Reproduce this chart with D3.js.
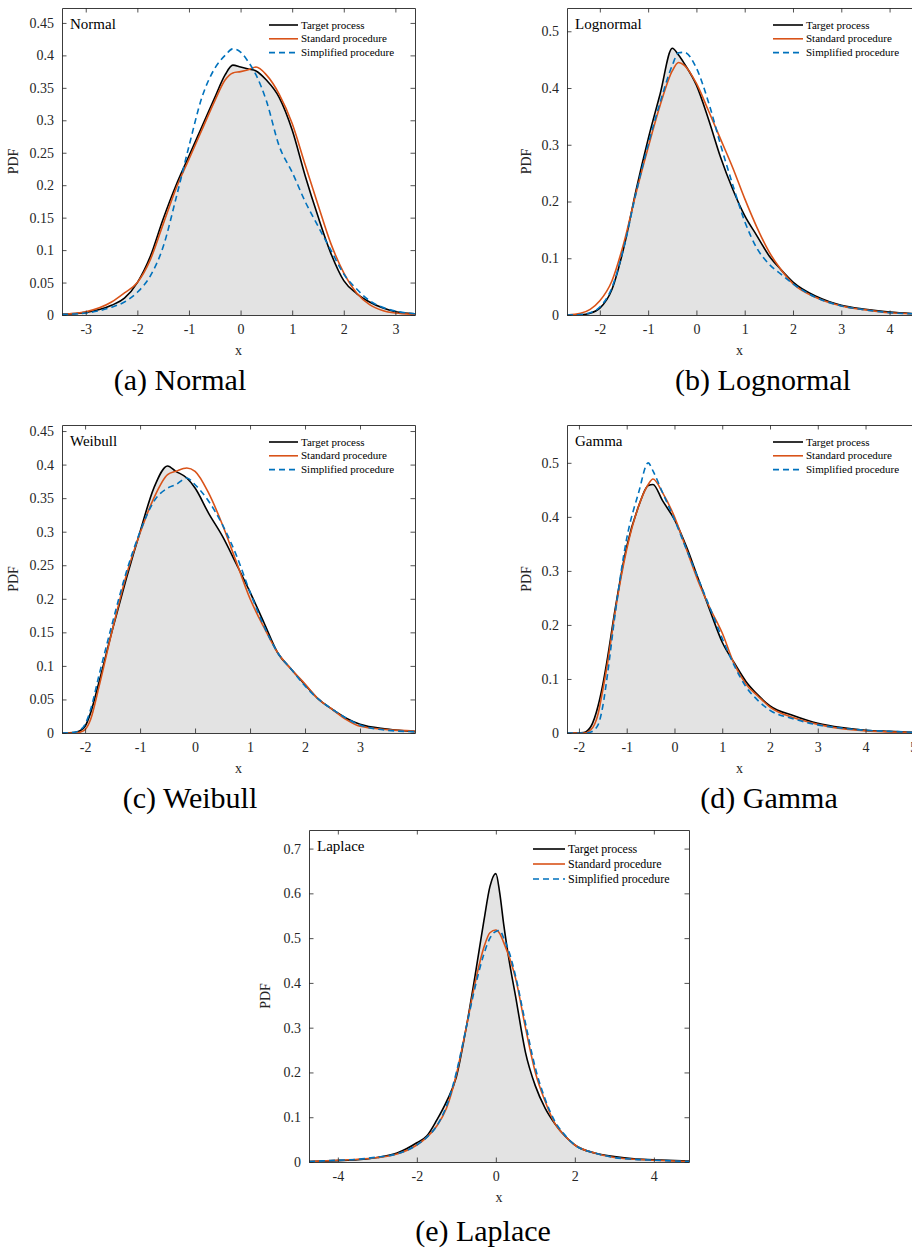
<!DOCTYPE html>
<html>
<head>
<meta charset="utf-8">
<script src="https://cdn.jsdelivr.net/npm/d3@7"></script>
<style>
  body { margin: 0; background: #fff; }
  svg { display: block; font-family: "Liberation Serif", "Times New Roman", serif; }
  svg text { font-family: "Liberation Serif", "Times New Roman", serif; }
</style>
</head>
<body>
<svg id="chart"></svg>
<script>
const width = 912;
const height = 1250;

// ---- (a) Normal ----
const normalX = [-3.46, -3, -2.5, -2.25, -2, -1.75, -1.5, -1.25, -1, -0.75, -0.5, -0.3, -0.15, 0, 0.15, 0.3, 0.5, 0.75, 1, 1.25, 1.5, 1.75, 2, 2.25, 2.5, 2.75, 3, 3.38];
const normalTarget = [0.001, 0.004, 0.015, 0.026, 0.05, 0.09, 0.148, 0.2, 0.245, 0.29, 0.335, 0.37, 0.385, 0.382, 0.379, 0.376, 0.362, 0.335, 0.285, 0.215, 0.152, 0.095, 0.053, 0.033, 0.02, 0.011, 0.005, 0.002];
const normalStandard = [0.001, 0.005, 0.02, 0.034, 0.05, 0.085, 0.14, 0.195, 0.24, 0.285, 0.33, 0.362, 0.373, 0.375, 0.378, 0.382, 0.37, 0.34, 0.295, 0.232, 0.17, 0.11, 0.065, 0.034, 0.016, 0.007, 0.003, 0.001];
const normalSimplified = [0.001, 0.003, 0.012, 0.02, 0.035, 0.06, 0.105, 0.18, 0.26, 0.335, 0.38, 0.4, 0.41, 0.405, 0.39, 0.37, 0.33, 0.26, 0.22, 0.175, 0.137, 0.1, 0.063, 0.04, 0.022, 0.012, 0.006, 0.002];

// ---- (b) Lognormal ----
const lognormalX = [-2.68, -2.4, -2.2, -2, -1.75, -1.5, -1.25, -1, -0.75, -0.5, -0.37, -0.25, 0, 0.25, 0.5, 0.75, 1, 1.25, 1.5, 1.75, 2, 2.5, 3, 3.5, 4, 4.63];
const lognormalTarget = [0, 0.0005, 0.003, 0.012, 0.045, 0.12, 0.22, 0.31, 0.39, 0.47, 0.458, 0.443, 0.405, 0.345, 0.278, 0.222, 0.175, 0.14, 0.105, 0.08, 0.058, 0.032, 0.017, 0.01, 0.005, 0.002];
const lognormalStandard = [0, 0.003, 0.01, 0.025, 0.06, 0.128, 0.215, 0.295, 0.37, 0.43, 0.445, 0.44, 0.408, 0.36, 0.31, 0.26, 0.205, 0.155, 0.112, 0.08, 0.055, 0.03, 0.016, 0.009, 0.004, 0.002];
const lognormalSimplified = [0, 0.001, 0.004, 0.014, 0.048, 0.12, 0.215, 0.3, 0.375, 0.44, 0.462, 0.463, 0.435, 0.375, 0.3, 0.23, 0.165, 0.118, 0.09, 0.072, 0.055, 0.03, 0.016, 0.009, 0.004, 0.002];

// ---- (c) Weibull ----
const weibullX = [-2.42, -2.2, -2.1, -2, -1.9, -1.75, -1.5, -1.25, -1, -0.75, -0.5, -0.35, -0.15, 0, 0.25, 0.5, 0.75, 1, 1.25, 1.5, 1.75, 2, 2.25, 2.5, 2.75, 3, 3.5, 4];
const weibullTarget = [0, 0.0005, 0.003, 0.01, 0.03, 0.075, 0.155, 0.23, 0.3, 0.365, 0.398, 0.39, 0.38, 0.365, 0.327, 0.293, 0.252, 0.21, 0.165, 0.12, 0.095, 0.072, 0.05, 0.035, 0.022, 0.013, 0.006, 0.002];
const weibullStandard = [0, 0, 0.001, 0.005, 0.02, 0.068, 0.155, 0.235, 0.298, 0.35, 0.385, 0.39, 0.395, 0.39, 0.357, 0.31, 0.255, 0.2, 0.158, 0.12, 0.095, 0.073, 0.05, 0.035, 0.02, 0.01, 0.005, 0.003];
const weibullSimplified = [0, 0.001, 0.004, 0.013, 0.035, 0.085, 0.165, 0.24, 0.3, 0.345, 0.365, 0.37, 0.38, 0.37, 0.345, 0.31, 0.265, 0.21, 0.16, 0.12, 0.095, 0.07, 0.05, 0.035, 0.022, 0.012, 0.004, 0.002];

// ---- (d) Gamma ----
const gammaX = [-2.25, -1.9, -1.75, -1.6, -1.5, -1.4, -1.25, -1, -0.75, -0.55, -0.45, -0.25, 0, 0.25, 0.5, 0.75, 1, 1.25, 1.5, 1.75, 2, 2.5, 3, 3.5, 4, 4.5, 5.14];
const gammaTarget = [0, 0.001, 0.012, 0.05, 0.09, 0.14, 0.225, 0.345, 0.42, 0.458, 0.46, 0.43, 0.395, 0.345, 0.285, 0.225, 0.168, 0.13, 0.095, 0.07, 0.05, 0.032, 0.018, 0.01, 0.005, 0.003, 0.001];
const gammaStandard = [0, 0, 0.006, 0.035, 0.08, 0.13, 0.22, 0.34, 0.42, 0.46, 0.47, 0.445, 0.4, 0.34, 0.28, 0.23, 0.185, 0.128, 0.09, 0.068, 0.048, 0.028, 0.016, 0.008, 0.004, 0.002, 0.001];
const gammaSimplified = [0, 0, 0.002, 0.015, 0.05, 0.11, 0.215, 0.36, 0.445, 0.5, 0.485, 0.445, 0.395, 0.34, 0.285, 0.23, 0.175, 0.125, 0.085, 0.06, 0.042, 0.026, 0.015, 0.009, 0.005, 0.003, 0.001];

// ---- (e) Laplace ----
const laplaceX = [-4.73, -4, -3.5, -3, -2.5, -2, -1.75, -1.5, -1.25, -1, -0.75, -0.5, -0.3, -0.15, 0, 0.1, 0.2, 0.35, 0.5, 0.75, 1, 1.25, 1.5, 1.75, 2, 2.5, 3, 3.5, 4, 4.89];
const laplaceTarget = [0.001, 0.003, 0.005, 0.01, 0.02, 0.043, 0.058, 0.093, 0.135, 0.19, 0.3, 0.43, 0.54, 0.615, 0.644, 0.6, 0.53, 0.443, 0.37, 0.245, 0.17, 0.12, 0.085, 0.058, 0.038, 0.02, 0.012, 0.007, 0.005, 0.002];
const laplaceStandard = [0.001, 0.004, 0.006, 0.01, 0.018, 0.038, 0.055, 0.08, 0.12, 0.195, 0.3, 0.41, 0.48, 0.512, 0.518, 0.51, 0.49, 0.455, 0.41, 0.3, 0.2, 0.135, 0.085, 0.058, 0.038, 0.02, 0.01, 0.006, 0.004, 0.001];
const laplaceSimplified = [0.001, 0.004, 0.006, 0.011, 0.018, 0.038, 0.055, 0.08, 0.125, 0.2, 0.3, 0.4, 0.465, 0.5, 0.515, 0.517, 0.5, 0.465, 0.415, 0.31, 0.21, 0.14, 0.09, 0.06, 0.038, 0.02, 0.01, 0.006, 0.004, 0.001];

// tick values
const normalXTicks = [-3, -2, -1, 0, 1, 2, 3];
const normalYTicks = [0, 0.05, 0.1, 0.15, 0.2, 0.25, 0.3, 0.35, 0.4, 0.45];
const lognormalXTicks = [-2, -1, 0, 1, 2, 3, 4];
const lognormalYTicks = [0, 0.1, 0.2, 0.3, 0.4, 0.5];
const weibullXTicks = [-2, -1, 0, 1, 2, 3];
const weibullYTicks = [0, 0.05, 0.1, 0.15, 0.2, 0.25, 0.3, 0.35, 0.4, 0.45];
const gammaXTicks = [-2, -1, 0, 1, 2, 3, 4, 5];
const gammaYTicks = [0, 0.1, 0.2, 0.3, 0.4, 0.5];
const laplaceXTicks = [-4, -2, 0, 2, 4];
const laplaceYTicks = [0, 0.1, 0.2, 0.3, 0.4, 0.5, 0.6, 0.7];

const seriesNames = ["Target process", "Standard procedure", "Simplified procedure"];

const colors = { target: "#000000", standard: "#D95319", simplified: "#0072BD" };
const serif = "'Liberation Serif', 'Times New Roman', serif";

const svg = d3.select("#chart").attr("width", width).attr("height", height);
svg.append("rect").attr("width", width).attr("height", height).attr("fill", "#fff");

function renderPanel(cfg) {
  const { left, right, top, bottom } = cfg.box;
  const x = d3.scaleLinear().domain(cfg.xDomain).range([left, right]);
  const y = d3.scaleLinear().domain(cfg.yDomain).range([bottom, top]);

  const g = svg.append("g");
  const clipId = "clip-" + cfg.name;
  g.append("clipPath").attr("id", clipId)
    .append("rect")
    .attr("x", left).attr("y", top)
    .attr("width", right - left).attr("height", bottom - top);

  const plot = g.append("g").attr("clip-path", `url(#${clipId})`);

  const pts = (ys) => cfg.xs.map((v, i) => [v, ys[i]]);

  // gray fill under the target curve
  const area = d3.area()
    .x((d) => x(d[0]))
    .y0(y(0))
    .y1((d) => y(d[1]))
    .curve(d3.curveMonotoneX);
  plot.append("path").attr("d", area(pts(cfg.target))).attr("fill", "#e3e3e3");

  const line = d3.line()
    .x((d) => x(d[0]))
    .y((d) => y(d[1]))
    .curve(d3.curveMonotoneX);

  plot.append("path").attr("d", line(pts(cfg.target)))
    .attr("fill", "none").attr("stroke", colors.target).attr("stroke-width", 1.6);
  plot.append("path").attr("d", line(pts(cfg.standard)))
    .attr("fill", "none").attr("stroke", colors.standard).attr("stroke-width", 1.6);
  plot.append("path").attr("d", line(pts(cfg.simplified)))
    .attr("fill", "none").attr("stroke", colors.simplified).attr("stroke-width", 1.6)
    .attr("stroke-dasharray", "6,4");

  // axes, MATLAB style: box with inward ticks on all sides
  const tl = 4.5;
  const fmt = (v) => String(+v.toFixed(2));
  const axes = [
    g.append("g").attr("transform", `translate(0,${bottom})`)
      .call(d3.axisBottom(x).tickValues(cfg.xTicks).tickSizeInner(-tl).tickSizeOuter(0).tickPadding(9).tickFormat(fmt)),
    g.append("g").attr("transform", `translate(0,${top})`)
      .call(d3.axisTop(x).tickValues(cfg.xTicks).tickSizeInner(-tl).tickSizeOuter(0).tickFormat("")),
    g.append("g").attr("transform", `translate(${left},0)`)
      .call(d3.axisLeft(y).tickValues(cfg.yTicks).tickSizeInner(-tl).tickSizeOuter(0).tickPadding(8).tickFormat(fmt)),
    g.append("g").attr("transform", `translate(${right},0)`)
      .call(d3.axisRight(y).tickValues(cfg.yTicks).tickSizeInner(-tl).tickSizeOuter(0).tickFormat("")),
  ];
  axes.forEach((a) => a.attr("font-family", serif).attr("font-size", 14));

  g.selectAll(".domain").attr("stroke", "#262626").attr("stroke-width", 0.9);
  g.selectAll(".tick line").attr("stroke", "#262626").attr("stroke-width", 0.8);
  g.selectAll(".tick text").attr("fill", "#262626");

  // axis labels
  g.append("text")
    .attr("x", (left + Math.min(right, width + 8)) / 2 + cfg.xLabelShift)
    .attr("y", bottom + 40)
    .attr("text-anchor", "middle")
    .attr("font-size", 14).attr("fill", "#262626")
    .text("x");
  g.append("text")
    .attr("transform", `translate(${left - cfg.yLabelOffset},${(top + bottom) / 2}) rotate(-90)`)
    .attr("text-anchor", "middle")
    .attr("font-size", 14).attr("fill", "#262626")
    .text("PDF");

  // panel name
  g.append("text")
    .attr("x", left + 8).attr("y", top + 21)
    .attr("font-size", 15).attr("fill", "#000")
    .text(cfg.name);

  // legend
  const lg = g.append("g").attr("transform", `translate(${left + cfg.legend.dx},${top + cfg.legend.dy})`);
  const keys = ["target", "standard", "simplified"];
  keys.forEach((k, i) => {
    const row = lg.append("g").attr("transform", `translate(0,${i * cfg.legend.gap})`);
    row.append("line")
      .attr("x1", 0).attr("x2", cfg.legend.len)
      .attr("stroke", colors[k]).attr("stroke-width", 1.6)
      .attr("stroke-dasharray", k === "simplified" ? "6,4" : null);
    row.append("text")
      .attr("x", cfg.legend.len + 3).attr("y", 3.5)
      .attr("font-size", cfg.legend.size).attr("fill", "#000")
      .text(seriesNames[i]);
  });

  // caption
  svg.append("text")
    .attr("x", cfg.caption.x).attr("y", cfg.caption.y)
    .attr("text-anchor", "middle")
    .attr("font-size", 30).attr("fill", "#000")
    .text(cfg.caption.text);
}

const panels = [
  {
    name: "Normal", xs: normalX, target: normalTarget, standard: normalStandard, simplified: normalSimplified,
    xTicks: normalXTicks, yTicks: normalYTicks, xDomain: [-3.46, 3.38], yDomain: [0, 0.473],
    box: { left: 62, right: 415, top: 8, bottom: 315 }, yLabelOffset: 44, xLabelShift: 0,
    legend: { dx: 207, dy: 17, gap: 13.8, len: 29, size: 11 },
    caption: { text: "(a) Normal", x: 180, y: 390 },
  },
  {
    name: "Lognormal", xs: lognormalX, target: lognormalTarget, standard: lognormalStandard, simplified: lognormalSimplified,
    xTicks: lognormalXTicks, yTicks: lognormalYTicks, xDomain: [-2.68, 4.63], yDomain: [0, 0.541],
    box: { left: 567, right: 920, top: 8, bottom: 315 }, yLabelOffset: 36, xLabelShift: -4,
    legend: { dx: 206, dy: 17, gap: 13.8, len: 30, size: 11 },
    caption: { text: "(b) Lognormal", x: 763, y: 390 },
  },
  {
    name: "Weibull", xs: weibullX, target: weibullTarget, standard: weibullStandard, simplified: weibullSimplified,
    xTicks: weibullXTicks, yTicks: weibullYTicks, xDomain: [-2.42, 4.0], yDomain: [0, 0.459],
    box: { left: 62, right: 415, top: 425, bottom: 733 }, yLabelOffset: 44, xLabelShift: 0,
    legend: { dx: 207, dy: 17, gap: 13.8, len: 29, size: 11 },
    caption: { text: "(c) Weibull", x: 190, y: 808 },
  },
  {
    name: "Gamma", xs: gammaX, target: gammaTarget, standard: gammaStandard, simplified: gammaSimplified,
    xTicks: gammaXTicks, yTicks: gammaYTicks, xDomain: [-2.25, 5.14], yDomain: [0, 0.57],
    box: { left: 567, right: 920, top: 425, bottom: 733 }, yLabelOffset: 36, xLabelShift: -4,
    legend: { dx: 206, dy: 17, gap: 13.8, len: 30, size: 11 },
    caption: { text: "(d) Gamma", x: 769, y: 808 },
  },
  {
    name: "Laplace", xs: laplaceX, target: laplaceTarget, standard: laplaceStandard, simplified: laplaceSimplified,
    xTicks: laplaceXTicks, yTicks: laplaceYTicks, xDomain: [-4.73, 4.89], yDomain: [0, 0.7415],
    box: { left: 309, right: 689, top: 830, bottom: 1162 }, yLabelOffset: 39, xLabelShift: 0,
    legend: { dx: 224, dy: 19, gap: 15, len: 32, size: 12 },
    caption: { text: "(e) Laplace", x: 483, y: 1241 },
  },
];

panels.forEach(renderPanel);
</script>
</body>
</html>
